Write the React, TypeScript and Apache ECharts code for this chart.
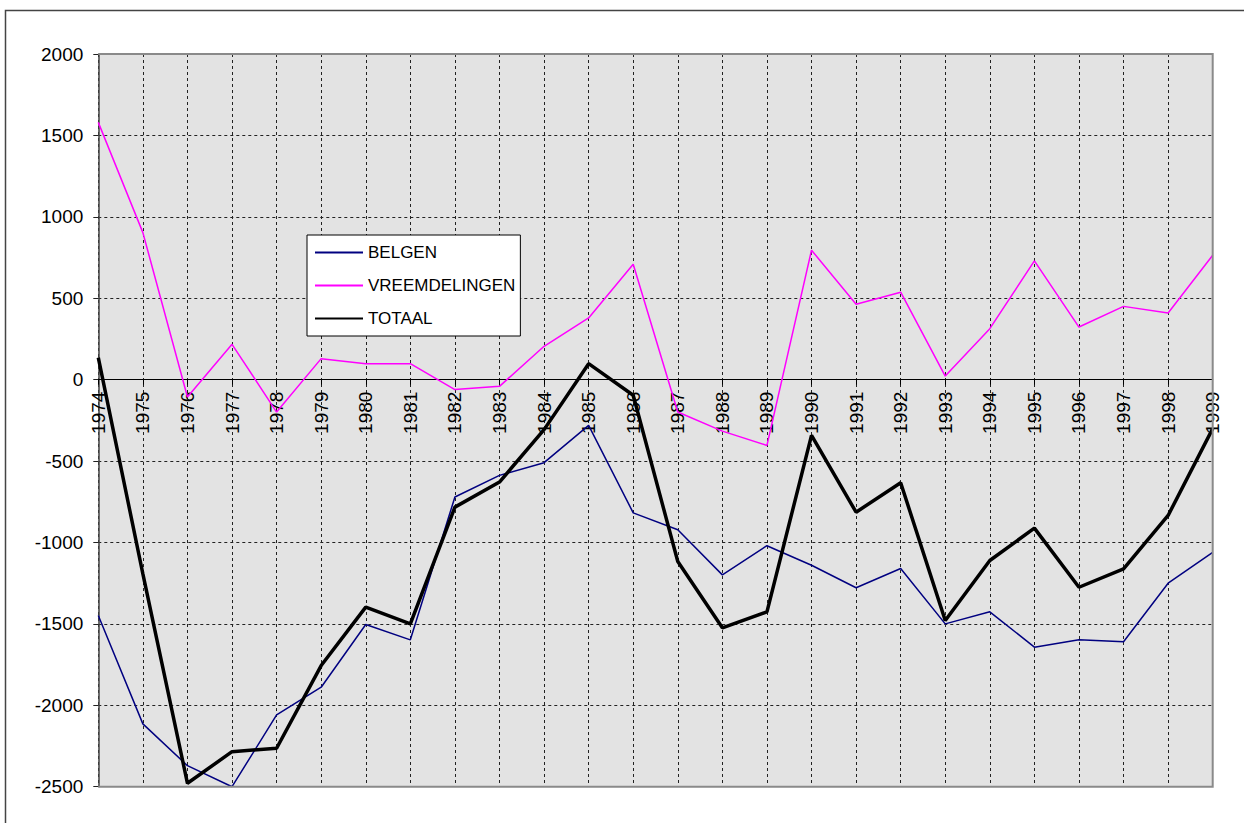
import React, { useEffect, useRef } from "react";
import * as echarts from "echarts";

const years = [
  "1974", "1975", "1976", "1977", "1978", "1979", "1980", "1981", "1982",
  "1983", "1984", "1985", "1986", "1987", "1988", "1989", "1990", "1991",
  "1992", "1993", "1994", "1995", "1996", "1997", "1998", "1999",
];

const belgen = [
  -1449, -2114, -2371, -2500, -2059, -1889, -1504, -1598, -721, -588, -510,
  -281, -818, -922, -1199, -1020, -1140, -1278, -1160, -1500, -1426, -1643,
  -1598, -1610, -1250, -1061,
];

const vreemdelingen = [
  1580, 903, -107, 217, -199, 129, 98, 98, -61, -41, 205, 379, 709, -199,
  -316, -404, 795, 463, 537, 22, 313, 729, 323, 450, 409, 764,
];

const totaal = [
  135, -1193, -2479, -2285, -2264, -1756, -1397, -1500, -783, -629, -307, 98,
  -96, -1117, -1524, -1426, -342, -814, -633, -1479, -1111, -912, -1275,
  -1162, -834, -301,
];

const yMin = -2500;
const yMax = 2000;
const yStep = 500;

const FONT = "'Liberation Sans', Arial, sans-serif";

export default function App() {
  const ref = useRef<HTMLDivElement>(null);
  useEffect(() => {
    if (!ref.current) return;
    const chart = echarts.init(ref.current, null, { renderer: "svg" });
    const L = 98.3;
    const R = 1212.7;
    const T = 54;
    const B = 786.7;
    const zeroY = T + ((yMax - 0) / (yMax - yMin)) * (B - T);
    chart.setOption({
      animation: false,
      backgroundColor: "#ffffff",
      grid: {
        left: L,
        right: 1244 - R,
        top: T,
        bottom: 823 - B,
        containLabel: false,
        outerBoundsMode: "none",
        show: true,
        backgroundColor: "#e3e3e3",
        borderWidth: 0,
      },
      legend: {
        orient: "vertical",
        left: 307,
        top: 235,
        padding: [9, 5, 9, 7],
        itemWidth: 48,
        itemHeight: 2,
        itemGap: 16,
        backgroundColor: "#ffffff",
        borderColor: "#000000",
        borderWidth: 1,
        itemStyle: { opacity: 0 },
        textStyle: { fontSize: 17, color: "#000", fontFamily: FONT, lineHeight: 17, padding: [0, 0, 0, 0] },
        data: ["BELGEN", "VREEMDELINGEN", "TOTAAL"],
      },
      xAxis: {
        type: "category",
        data: years,
        boundaryGap: false,
        offset: -(B - zeroY),
        axisLine: { onZero: false, lineStyle: { color: "#000", width: 1 } },
        axisTick: { show: true, length: 5, alignWithLabel: true, lineStyle: { color: "#000" } },
        axisLabel: {
          rotate: 90,
          margin: 12,
          fontSize: 19,
          color: "#000",
          fontFamily: FONT,
          interval: 0,
        },
        splitLine: {
          show: true,
          lineStyle: { color: "#222", type: [3, 3], width: 1 },
        },
      },
      yAxis: {
        type: "value",
        min: yMin,
        max: yMax,
        interval: yStep,
        axisLine: { show: true, lineStyle: { color: "#444", width: 1.5 } },
        axisTick: { show: true, length: 5, lineStyle: { color: "#222" } },
        axisLabel: {
          fontSize: 19,
          color: "#000",
          fontFamily: FONT,
          margin: 15,
          formatter: (v: number) => String(v),
        },
        splitLine: {
          show: true,
          lineStyle: { color: "#222", type: [3, 3], width: 1 },
        },
      },
      graphic: [
        {
          type: "rect",
          z: -10,
          shape: { x: 5.5, y: 10.5, width: 1400, height: 1000 },
          style: { fill: "none", stroke: "#444", lineWidth: 1.5 },
          silent: true,
        },
        {
          type: "polyline",
          z: 50,
          shape: { points: [[L, T], [R, T], [R, B], [L, B]] },
          style: { fill: "none", stroke: "#8a8a8a", lineWidth: 2 },
          silent: true,
        },
      ],
      series: [
        {
          name: "BELGEN",
          type: "line",
          data: belgen,
          symbol: "none",
          lineStyle: { color: "#000080", width: 1.5 },
          itemStyle: { color: "#000080" },
          z: 3,
        },
        {
          name: "VREEMDELINGEN",
          type: "line",
          data: vreemdelingen,
          symbol: "none",
          lineStyle: { color: "#ff00ff", width: 1.5 },
          itemStyle: { color: "#ff00ff" },
          z: 4,
        },
        {
          name: "TOTAAL",
          type: "line",
          data: totaal,
          symbol: "none",
          lineStyle: { color: "#000000", width: 3.5 },
          itemStyle: { color: "#000000" },
          z: 5,
        },
      ],
    });
    return () => chart.dispose();
  }, []);
  return (
    <div
      ref={ref}
      style={{ position: "absolute", left: 0, top: 0, width: 1244, height: 823 }}
    />
  );
}
